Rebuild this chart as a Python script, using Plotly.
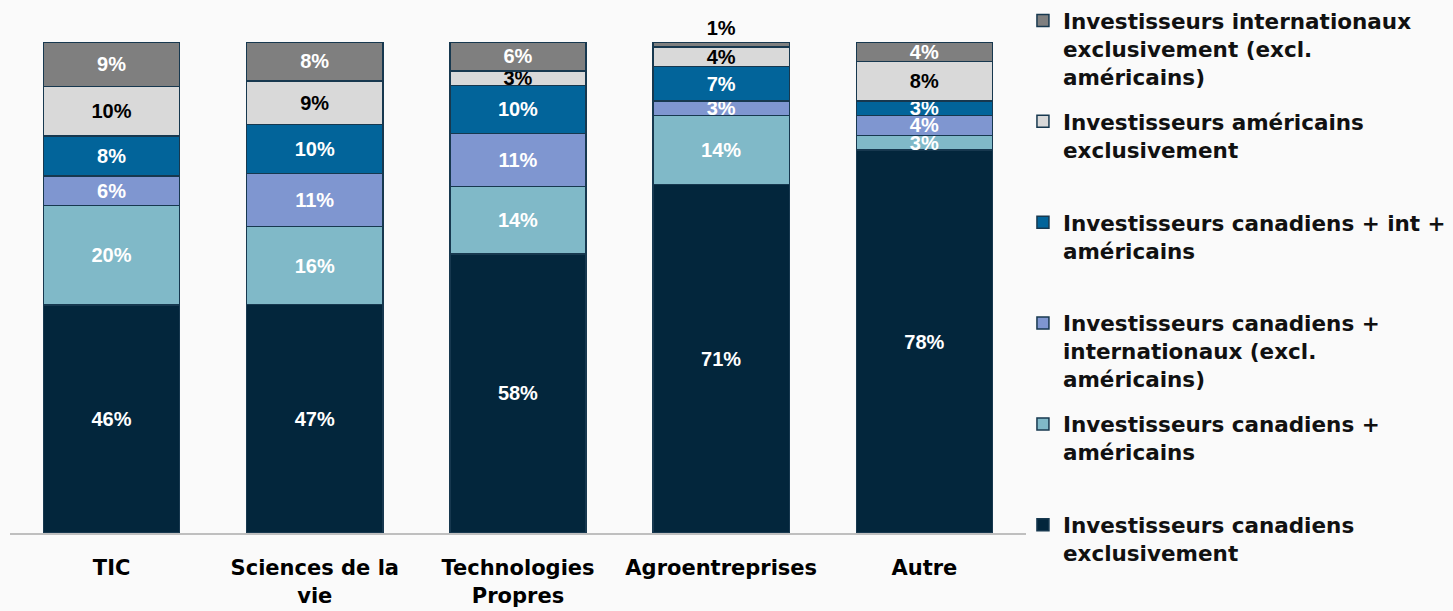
import plotly.graph_objects as go

categories = ["TIC", "Sciences de la vie", "Technologies Propres", "Agroentreprises", "Autre"]
tick_labels = ["TIC", "Sciences de la<br>vie", "Technologies<br>Propres", "Agroentreprises", "Autre"]

can_only = [46, 47, 58, 71, 78]
can_us = [20, 16, 14, 14, 3]
can_intl = [6, 11, 11, 3, 4]
can_intl_us = [8, 10, 10, 7, 3]
us_only = [10, 9, 3, 4, 8]
intl_only = [9, 8, 6, 1, 4]

series = [
    ("Investisseurs canadiens<br>exclusivement<br> ", can_only, "#03263c", "white"),
    ("Investisseurs canadiens +<br>américains<br> ", can_us, "#80b9c8", "white"),
    ("Investisseurs canadiens +<br>internationaux (excl.<br>américains)", can_intl, "#7f96d0", "white"),
    ("Investisseurs canadiens + int +<br>américains<br> ", can_intl_us, "#02649a", "white"),
    ("Investisseurs américains<br>exclusivement<br> ", us_only, "#d9d9d9", "black"),
    ("Investisseurs internationaux<br>exclusivement (excl.<br>américains)", intl_only, "#7f7f7f", "white"),
]

bar_font = "Liberation Sans, Arial, sans-serif"
label_font = "DejaVu Sans, Liberation Sans, Arial"

fig = go.Figure()
for i, (name, vals, color, txtcolor) in enumerate(series):
    top = i == len(series) - 1
    positions = ["inside"] * len(vals)
    if top:
        # a sliver too thin for its label gets it above the bar
        positions = ["outside" if v <= 1 else "inside" for v in vals]
    fig.add_trace(go.Bar(
        x=categories,
        y=vals,
        name=name,
        legendgroup=f"g{i}",
        legendrank=100 - i,
        marker=dict(color=color, line=dict(color="#17384f", width=1.5)),
        text=[f"{v}%" for v in vals],
        textposition=positions,
        insidetextanchor="middle",
        textangle=0,
        constraintext="none",
        cliponaxis=False,
        insidetextfont=dict(family=bar_font, size=20, color=txtcolor, weight="bold"),
        outsidetextfont=dict(family=bar_font, size=20, color="black", weight="bold"),
        hoverinfo="skip",
    ))

fig.update_layout(
    width=1453,
    height=611,
    barmode="stack",
    barnorm="percent",
    bargap=0.33,
    paper_bgcolor="#fafafa",
    plot_bgcolor="#fafafa",
    margin=dict(l=10, r=427, t=42, b=78, autoexpand=False),
    showlegend=True,
    legend=dict(
        x=0.997,
        xanchor="left",
        y=1.0855,
        yanchor="top",
        valign="top",
        tracegroupgap=14,
        maxheight=611,
        font=dict(family=label_font, size=21.5, color="#111111", weight="bold"),
        bgcolor="rgba(0,0,0,0)",
    ),
    xaxis=dict(
        tickmode="array",
        tickvals=categories,
        ticktext=tick_labels,
        tickfont=dict(family=label_font, size=21, color="black", weight="bold"),
        showline=True,
        linecolor="#bfbfbf",
        linewidth=2,
        ticks="",
        ticklabelstandoff=15,
        showgrid=False,
    ),
    yaxis=dict(
        range=[0, 100.001],
        visible=False,
        showgrid=False,
    ),
)

fig.write_html("out.html")
